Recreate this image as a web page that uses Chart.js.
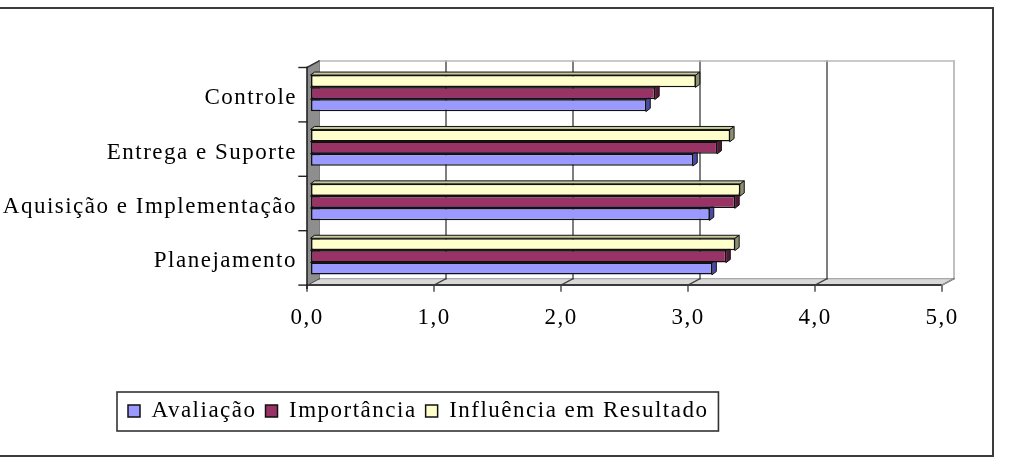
<!DOCTYPE html>
<html><head><meta charset="utf-8">
<script src="https://cdn.jsdelivr.net/npm/chart.js@4.4.1/dist/chart.umd.min.js"></script>
<style>html,body{margin:0;padding:0;background:#fff;}canvas{display:block;}</style>
</head><body>
<canvas id="c" width="1010" height="464"></canvas>
<script>
// ---- data (top to bottom as displayed) ----
const categories = ['Controle', 'Entrega e Suporte', 'Aquisição e Implementação', 'Planejamento'];
const seriesNames = ['Avaliação', 'Importância', 'Influência em Resultado'];
const avaliacao   = [2.64, 3.01, 3.14, 3.16];
const importancia = [2.71, 3.20, 3.34, 3.27];
const influencia  = [3.03, 3.30, 3.38, 3.34];
const xTickLabels = ['0,0', '1,0', '2,0', '3,0', '4,0', '5,0'];

// ---- styles ----
const FONT = "'Liberation Serif','Times New Roman',serif";
const FONT_SIZE = 23;
const SPACING = '1.5px';
const FRONT = {dx: -4, dy: 1.5};
const BACK = {dx: 8, dy: -5};
const BAR_DEPTH = {dx: 4, dy: -3};

Chart.defaults.font.family = FONT;
Chart.defaults.font.size = FONT_SIZE;
Chart.defaults.color = '#000';

function poly(ctx, pts, fill, stroke, lw) {
  ctx.beginPath();
  ctx.moveTo(pts[0][0], pts[0][1]);
  for (let i = 1; i < pts.length; i++) ctx.lineTo(pts[i][0], pts[i][1]);
  ctx.closePath();
  if (fill) { ctx.fillStyle = fill; ctx.fill(); }
  if (stroke) { ctx.strokeStyle = stroke; ctx.lineWidth = lw || 1; ctx.stroke(); }
}
function line(ctx, pts, color, lw) {
  ctx.beginPath();
  ctx.moveTo(pts[0][0], pts[0][1]);
  for (let i = 1; i < pts.length; i++) ctx.lineTo(pts[i][0], pts[i][1]);
  ctx.strokeStyle = color; ctx.lineWidth = lw; ctx.stroke();
}

const threeD = {
  id: 'threeD',
  beforeLayout(chart) { chart.ctx.letterSpacing = SPACING; },
  beforeDraw(chart) { chart.ctx.letterSpacing = SPACING; },
  afterLayout(chart) {
    const lg = chart.legend;
    if (!lg) return;
    const p = lg.options.labels.padding;
    lg.left = 128 - p;
    lg.top = 411 - p - FONT_SIZE / 2;
    lg.bottom = lg.top + lg.height;
  },
  beforeDatasetsDraw(chart) {
    const ctx = chart.ctx, ca = chart.chartArea, xs = chart.scales.x;
    const F = {l: ca.left + FRONT.dx, r: ca.right + FRONT.dx, t: ca.top + FRONT.dy, b: ca.bottom + FRONT.dy};
    const B = {l: ca.left + BACK.dx, r: ca.right + BACK.dx, t: ca.top + BACK.dy, b: ca.bottom + BACK.dy};
    ctx.save();
    ctx.letterSpacing = '0px';
    ctx.lineCap = 'square';
    // back wall
    ctx.fillStyle = '#fff';
    ctx.fillRect(B.l, B.t, B.r - B.l, B.b - B.t);
    // floor
    poly(ctx, [[F.l, F.b], [F.r, F.b], [B.r, B.b], [B.l, B.b]], '#d8d8d8');
    line(ctx, [[B.l, B.b], [B.r, B.b]], '#a8a8a8', 1.2);
    // gridlines
    xs.ticks.forEach((t, i) => {
      const px = xs.getPixelForValue(t.value);
      const bx = px + BACK.dx, fx = px + FRONT.dx;
      const last = i === xs.ticks.length - 1;
      line(ctx, [[bx, B.t], [bx, B.b]], last ? '#aaaaaa' : '#5e5e5e', last ? 1.5 : 1.6);
      line(ctx, [[bx, B.b], [fx, F.b], [fx, F.b + 6]], '#444', 1.4);
    });
    // back wall top edge
    line(ctx, [[B.l, B.t], [B.r, B.t]], '#b8b8b8', 1.5);
    // floor front edge and right edge
    line(ctx, [[F.l, F.b], [F.r, F.b]], '#3a3a3a', 2);
    line(ctx, [[F.r, F.b], [B.r, B.b]], '#999', 1.2);
    // side wall
    poly(ctx, [[F.l, F.t], [B.l, B.t], [B.l, B.b], [F.l, F.b]], '#8e8e8e');
    line(ctx, [[F.l, F.t], [B.l, B.t]], '#333', 1.5);
    // front vertical axis with category ticks
    line(ctx, [[F.l, F.t], [F.l, F.b + 3]], '#222', 1.6);
    const n = categories.length;
    for (let i = 0; i <= n; i++) {
      const y = F.t + i * (F.b - F.t) / n;
      line(ctx, [[F.l - 8, y], [F.l, y]], '#222', 1.4);
    }
    // bar 3D faces (top and end)
    chart.data.datasets.forEach((ds, di) => {
      const meta = chart.getDatasetMeta(di);
      meta.data.forEach(el => {
        const {x, y, base, height} = el.getProps(['x', 'y', 'base', 'height'], true);
        const top = y - height / 2, bot = y + height / 2;
        const dx = BAR_DEPTH.dx, dy = BAR_DEPTH.dy;
        poly(ctx, [[base, top], [x, top], [x + dx, top + dy], [base + dx, top + dy]], ds.topColor, '#111', 1);
        poly(ctx, [[x, top], [x + dx, top + dy], [x + dx, bot + dy], [x, bot]], ds.sideColor, '#111', 1);
      });
    });
    ctx.restore();
  },
  afterDraw(chart) {
    const ctx = chart.ctx;
    ctx.save();
    // outer frame
    ctx.strokeStyle = '#3c3c3c';
    ctx.lineWidth = 2;
    ctx.strokeRect(-2, 8, 995, 448);
    // legend frame
    const lg = chart.legend;
    if (lg && lg.lineWidths) {
      const p = lg.options.labels.padding;
      const cy = lg.top + p + FONT_SIZE / 2;
      const left = lg.left - 2;
      const right = lg.left + lg.lineWidths[0] + 10;
      ctx.strokeStyle = '#333';
      ctx.lineWidth = 1.6;
      ctx.strokeRect(left, cy - 19, right - left, 39);
    }
    ctx.restore();
  }
};

new Chart(document.getElementById('c'), {
  type: 'bar',
  data: {
    labels: categories,
    datasets: [
      {label: seriesNames[2], data: influencia, backgroundColor: '#FFFFCC', topColor: '#c9c99e', sideColor: '#8f8f70'},
      {label: seriesNames[1], data: importancia, backgroundColor: '#993366', topColor: '#7a2852', sideColor: '#551a38'},
      {label: seriesNames[0], data: avaliacao, backgroundColor: '#9999FF', topColor: '#7373d6', sideColor: '#4a4aa8'}
    ].map(d => Object.assign(d, {borderColor: '#111', borderWidth: 1.5, borderSkipped: false}))
  },
  options: {
    indexAxis: 'y',
    responsive: false,
    animation: false,
    events: [],
    layout: {padding: {left: 0, right: 64, top: 66, bottom: 0}},
    datasets: {bar: {categoryPercentage: 0.667, barPercentage: 1}},
    scales: {
      x: {
        min: 0, max: 5,
        ticks: {stepSize: 1, padding: 21, labelOffset: -4, color: '#000', maxRotation: 0,
                callback: (v, i) => xTickLabels[i]},
        grid: {display: false, drawTicks: false},
        border: {display: false},
        afterFit(s) {
          const lh = s.chart.legend ? s.chart.legend.height : 0;
          s.height = s.chart.height - 283.6 - lh;
        }
      },
      y: {
        ticks: {padding: 14, labelOffset: 5, color: '#000'},
        grid: {display: false, drawTicks: false},
        border: {display: false},
        afterFit(s) { s.width = 311; }
      }
    },
    plugins: {
      legend: {
        position: 'bottom', align: 'start', reverse: true,
        labels: {boxWidth: 12, boxHeight: 12, padding: 9, color: '#000', font: {size: FONT_SIZE, family: FONT}}
      },
      tooltip: {enabled: false}
    }
  },
  plugins: [threeD]
});
</script>
</body></html>
